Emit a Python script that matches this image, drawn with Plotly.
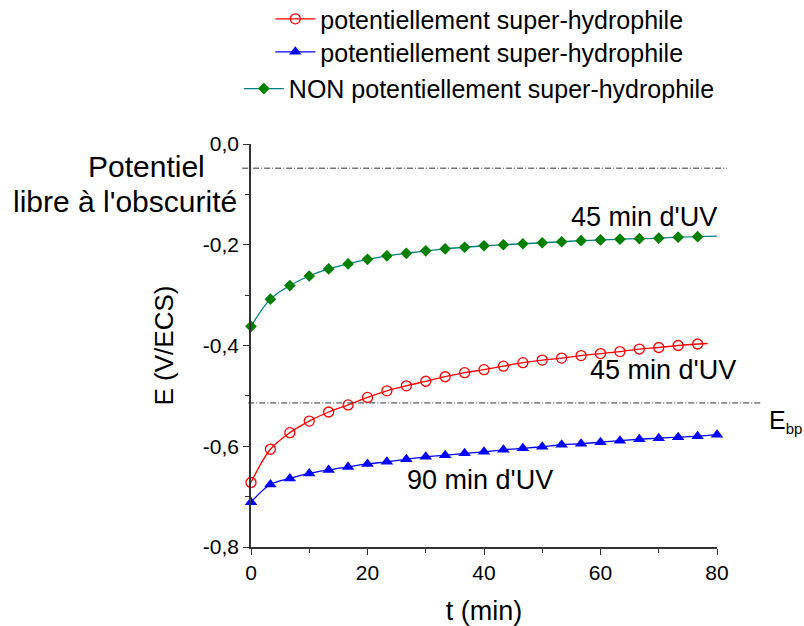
import plotly.graph_objects as go

# ---- data ----
t_markers = [0, 3.33, 6.67, 10, 13.33, 16.67, 20, 23.33, 26.67, 30, 33.33, 36.67,
             40, 43.33, 46.67, 50, 53.33, 56.67, 60, 63.33, 66.67, 70, 73.33, 76.67]
t_blue = t_markers + [80]

E_green = [-0.362, -0.308, -0.281, -0.262, -0.248, -0.238, -0.229, -0.222, -0.217, -0.212,
           -0.208, -0.205, -0.202, -0.200, -0.198, -0.196, -0.194, -0.192, -0.1905, -0.189,
           -0.188, -0.187, -0.185, -0.184]
E_red = [-0.672, -0.606, -0.573, -0.550, -0.532, -0.518, -0.503, -0.490, -0.480, -0.471,
         -0.462, -0.454, -0.448, -0.441, -0.434, -0.429, -0.425, -0.420, -0.416, -0.412,
         -0.407, -0.404, -0.400, -0.397]
E_blue = [-0.711, -0.676, -0.664, -0.654, -0.647, -0.641, -0.635, -0.631, -0.626, -0.621,
          -0.618, -0.614, -0.611, -0.607, -0.604, -0.601, -0.597, -0.595, -0.592, -0.589,
          -0.586, -0.584, -0.582, -0.580, -0.577]

# curve tails after the last marker
green_tail_t = [76.67, 80]
green_tail_E = [-0.184, -0.183]
red_tail_t = [76.67, 78.4]
red_tail_E = [-0.397, -0.396]

E_dark = -0.048   # Potentiel libre à l'obscurité
E_bp = -0.514

legend_names = ["potentiellement super-hydrophile",
                "potentiellement super-hydrophile",
                "NON potentiellement super-hydrophile"]

x_ticks = [0, 20, 40, 60, 80]
x_ticktext = ["0", "20", "40", "60", "80"]
y_ticks = [0, -0.2, -0.4, -0.6, -0.8]
y_ticktext = ["0,0", "-0,2", "-0,4", "-0,6", "-0,8"]

FONT = "Liberation Sans, Arial, sans-serif"
RED, BLUE, TEAL, GREEN = "#FF0000", "#0000FF", "#008080", "#008000"

fig = go.Figure()

# red
fig.add_trace(go.Scatter(x=red_tail_t, y=red_tail_E, mode="lines",
                         line=dict(color=RED, width=1.3), showlegend=False, hoverinfo="skip"))
fig.add_trace(go.Scatter(x=t_markers, y=E_red, mode="lines+markers", name=legend_names[0],
                         line=dict(color=RED, width=1.3, shape="spline"),
                         marker=dict(symbol="circle-open", size=10, color=RED, line=dict(width=1.3)),
                         cliponaxis=False, legend="legend"))
# blue
fig.add_trace(go.Scatter(x=t_blue, y=E_blue, mode="lines+markers", name=legend_names[1],
                         line=dict(color=BLUE, width=1.3, shape="spline"),
                         marker=dict(symbol="triangle-up", size=11, color=BLUE),
                         cliponaxis=False, legend="legend2"))
# green
fig.add_trace(go.Scatter(x=green_tail_t, y=green_tail_E, mode="lines",
                         line=dict(color=TEAL, width=1.3), showlegend=False, hoverinfo="skip"))
fig.add_trace(go.Scatter(x=t_markers, y=E_green, mode="lines+markers", name=legend_names[2],
                         line=dict(color=TEAL, width=1.3, shape="spline"),
                         marker=dict(symbol="diamond", size=9, color=GREEN),
                         cliponaxis=False, legend="legend3"))

# reference dash-dot lines
fig.add_shape(type="line", xref="paper", yref="y", x0=-0.019, x1=1.021, y0=E_dark, y1=E_dark,
              line=dict(color="#333333", width=1, dash="6px,2px,1px,2px"))
fig.add_shape(type="line", xref="paper", yref="y", x0=-0.006, x1=1.097, y0=E_bp, y1=E_bp,
              line=dict(color="#333333", width=1, dash="6px,2px,1px,2px"))

ann_font = dict(family=FONT, size=27, color="black")
fig.add_annotation(x=67.5, y=-0.145, text="45 min d'UV", showarrow=False, font=ann_font)
fig.add_annotation(x=70.7, y=-0.449, text="45 min d'UV", showarrow=False, font=ann_font)
fig.add_annotation(x=39.3, y=-0.667, text="90 min d'UV", showarrow=False, font=ann_font)
fig.add_annotation(xref="paper", x=1.108, y=-0.55,
                   text="E<sub><span style='font-size:15px'>bp</span></sub>", showarrow=False,
                   xanchor="left", font=dict(family=FONT, size=25, color="black"))
fig.add_annotation(xref="paper", x=-0.225, y=-0.044, text="Potentiel", showarrow=False,
                   xanchor="center", font=dict(family=FONT, size=30, color="black"))
fig.add_annotation(xref="paper", x=-0.27, y=-0.115, text="libre à l'obscurité", showarrow=False,
                   xanchor="center", font=dict(family=FONT, size=30, color="black"))

leg_common = dict(xanchor="center", yanchor="middle", bgcolor="rgba(0,0,0,0)",
                  font=dict(family=FONT, size=25, color="black"), itemwidth=40)

fig.update_layout(
    width=804, height=626,
    margin=dict(l=251, r=87, t=144, b=79, autoexpand=False),
    paper_bgcolor="white", plot_bgcolor="white",
    font=dict(family=FONT, color="black"),
    legend=dict(x=0.49, y=1.31, **leg_common),
    legend2=dict(x=0.49, y=1.228, **leg_common),
    legend3=dict(x=0.49, y=1.137, **leg_common),
    xaxis=dict(range=[0, 80], tickvals=x_ticks, ticktext=x_ticktext,
               showgrid=False, zeroline=False, showline=True, linecolor="#333333", linewidth=1.5,
               ticks="outside", ticklen=6, tickwidth=1.3, tickcolor="#333333",
               minor=dict(dtick=10, ticks="outside", ticklen=4, tickwidth=1.3, tickcolor="#333333"),
               tickfont=dict(family=FONT, size=21, color="black"),
               title=dict(text="t (min)", font=dict(family=FONT, size=27, color="black"), standoff=18)),
    yaxis=dict(range=[-0.8, 0.0], tickvals=y_ticks, ticktext=y_ticktext,
               showgrid=False, zeroline=False, showline=True, linecolor="#333333", linewidth=1.5,
               ticks="outside", ticklen=6, tickwidth=1.3, tickcolor="#333333",
               minor=dict(dtick=0.1, ticks="outside", ticklen=4, tickwidth=1.3, tickcolor="#333333"),
               tickfont=dict(family=FONT, size=21, color="black"),
               title=dict(text="E (V/ECS)", font=dict(family=FONT, size=26, color="black"), standoff=22)),
)

# remove the default 8px page margin so the figure fills the window exactly
fig.write_html("out.html", config={"displayModeBar": False},
               post_script="document.body.style.margin='0';")
